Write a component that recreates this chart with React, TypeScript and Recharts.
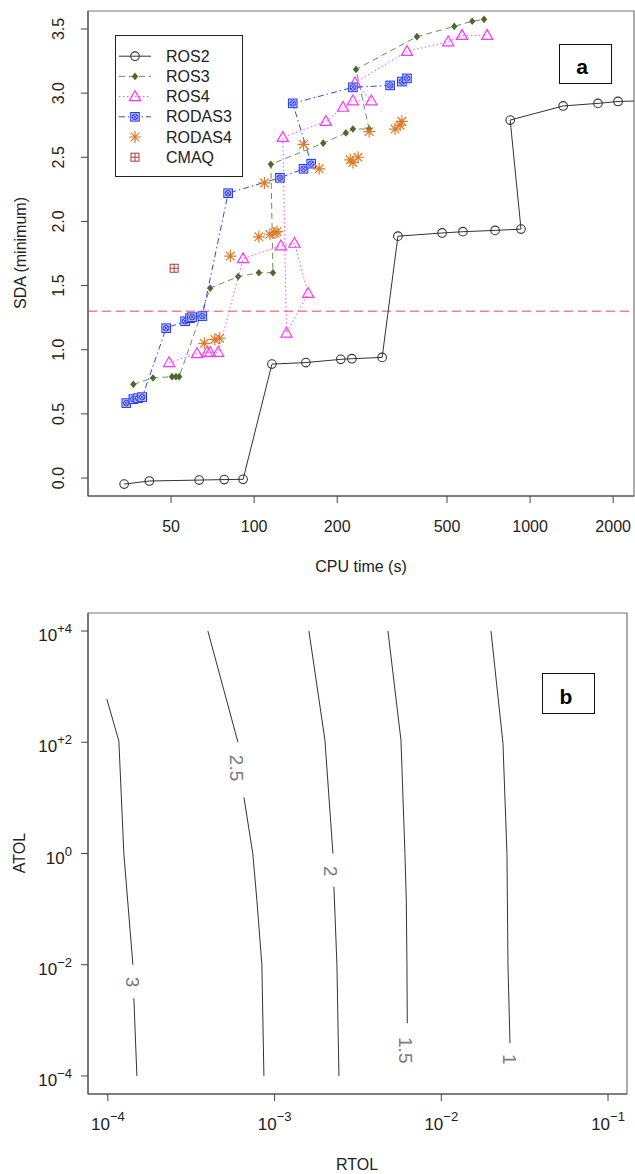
import React from "react";
import {
  ScatterChart,
  Scatter,
  XAxis,
  YAxis,
  ReferenceLine,
  ReferenceArea,
} from "recharts";

const FONT = '"Liberation Sans", Arial, Helvetica, sans-serif';

// ---------- panel a: SDA (minimum) vs CPU time ----------
const ros2Time = [33.8, 41.7, 63.2, 77.9, 91.2, 116, 154, 206, 226, 291, 332, 480, 571, 747, 927, 847, 1318, 1762, 2083, 2600];
const ros2Sda = [-0.047, -0.023, -0.016, -0.012, -0.01, 0.888, 0.9, 0.925, 0.93, 0.94, 1.885, 1.91, 1.92, 1.93, 1.94, 2.79, 2.9, 2.92, 2.935, 2.94];

const ros3Time = [36.5, 43, 50.4, 52.1, 53.5, 69.3, 87.5, 104, 117, 115, 178, 215, 228, 261, 234, 389, 531, 617, 681];
const ros3Sda = [0.73, 0.78, 0.79, 0.79, 0.79, 1.48, 1.57, 1.6, 1.6, 2.445, 2.61, 2.69, 2.72, 2.72, 3.185, 3.44, 3.52, 3.56, 3.575];

const ros4Time = [49.2, 62.1, 67.6, 69.3, 74.1, 91.2, 125, 140, 157, 131, 127, 182, 210, 228, 266, 232, 358, 505, 567, 699];
const ros4Sda = [0.9, 0.97, 0.98, 0.98, 0.98, 1.71, 1.81, 1.83, 1.44, 1.13, 2.655, 2.78, 2.89, 2.94, 2.94, 3.08, 3.325, 3.4, 3.45, 3.45];

const rodas3Time = [34.4, 36.5, 38.0, 39.3, 48.0, 56.2, 58.6, 59.6, 64.9, 80.5, 124, 151, 161, 138, 228, 311, 343, 358];
const rodas3Sda = [0.584, 0.615, 0.623, 0.631, 1.168, 1.222, 1.246, 1.254, 1.262, 2.22, 2.34, 2.41, 2.45, 2.92, 3.045, 3.06, 3.09, 3.115];

const rodas4Time = [66, 72, 75, 82, 104, 114, 119, 121, 109, 151, 172, 223, 228, 238, 261, 324, 338, 343];
const rodas4Sda = [1.05, 1.08, 1.09, 1.73, 1.88, 1.9, 1.91, 1.92, 2.3, 2.6, 2.41, 2.48, 2.46, 2.5, 2.7, 2.72, 2.75, 2.78];

const cmaqTime = [51.3];
const cmaqSda = [1.635];

const sdaThreshold = 1.3;
const cpuTicks = [50, 100, 200, 500, 1000, 2000];
const sdaTicks = [0, 0.5, 1, 1.5, 2, 2.5, 3, 3.5];
const cpuDomain = [25, 2380];
const sdaDomain = [-0.14, 3.64];

// ---------- panel b: contours of SDA over RTOL / ATOL ----------
const c3aRtol = [9.86e-5, 1.164e-4, 1.247e-4, 1.413e-4];
const c3aAtol = [598, 105, 1, 0.01];
const c3bRtol = [1.432e-4, 1.493e-4];
const c3bAtol = [2.5e-3, 1e-4];

const c25aRtol = [3.98e-4, 6.03e-4];
const c25aAtol = [1e4, 100];
const c25bRtol = [6.55e-4, 7.4e-4, 7.83e-4, 8.39e-4, 8.63e-4];
const c25bAtol = [10.2, 1, 0.145, 0.01, 1e-4];

const c2aRtol = [1.607e-3, 2.004e-3, 2.239e-3];
const c2aAtol = [1e4, 110, 1];
const c2bRtol = [2.27e-3, 2.366e-3, 2.432e-3];
const c2bAtol = [0.251, 0.01, 1e-4];

const c15Rtol = [4.786e-3, 5.728e-3, 6.053e-3, 6.166e-3, 6.223e-3, 6.252e-3];
const c15Atol = [1e4, 110, 1, 0.145, 0.01, 8.9e-4];

const c1Rtol = [0.01986, 0.02344, 0.02477, 0.02512, 0.02582];
const c1Atol = [1e4, 95.5, 1, 0.01, 3.9e-4];

const contourLabelText = ["3", "2.5", "2", "1.5", "1"];
const contourLabelRtol = [1.41e-4, 5.94e-4, 2.15e-3, 6.14e-3, 0.0258];
const contourLabelAtol = [4.86e-3, 34.4, 0.48, 2.9e-4, 2.0e-4];

const rtolTicks = [1e-4, 1e-3, 1e-2, 1e-1];
const atolTicks = [1e-4, 1e-2, 1, 1e2, 1e4];
const rtolDomain = [7.6e-5, 0.13];
const atolDomain = [4.74e-5, 2.11e4];

const legendNames = ["ROS2", "ROS3", "ROS4", "RODAS3", "RODAS4", "CMAQ"];

const zip = (xs: number[], ys: number[]) => xs.map((x, i) => ({ x, y: ys[i] }));

type Kind = "circle" | "diamond" | "triangle" | "squareCircle" | "asterisk" | "squarePlus";

const series = [
  { name: "ROS2", data: zip(ros2Time, ros2Sda), color: "#333", line: "#333", dash: undefined, kind: "circle" as Kind },
  { name: "ROS3", data: zip(ros3Time, ros3Sda), color: "#4b6b2b", line: "#6f8f55", dash: "6 4", kind: "diamond" as Kind },
  { name: "ROS4", data: zip(ros4Time, ros4Sda), color: "#ff33ff", line: "#ff44ff", dash: "1.5 2.5", kind: "triangle" as Kind },
  { name: "RODAS3", data: zip(rodas3Time, rodas3Sda), color: "#2233ff", line: "#3344ff", dash: "6 3 1.5 3", kind: "squareCircle" as Kind },
  { name: "RODAS4", data: zip(rodas4Time, rodas4Sda), color: "#e07a25", line: null, dash: undefined, kind: "asterisk" as Kind },
  { name: "CMAQ", data: zip(cmaqTime, cmaqSda), color: "#b03a3a", line: null, dash: undefined, kind: "squarePlus" as Kind },
];

const contourSegments = [
  zip(c3aRtol, c3aAtol),
  zip(c3bRtol, c3bAtol),
  zip(c25aRtol, c25aAtol),
  zip(c25bRtol, c25bAtol),
  zip(c2aRtol, c2aAtol),
  zip(c2bRtol, c2bAtol),
  zip(c15Rtol, c15Atol),
  zip(c1Rtol, c1Atol),
];

const contourLabels = contourLabelText.map((text, i) => ({
  x: contourLabelRtol[i],
  y: contourLabelAtol[i],
  text,
}));

function Marker({ kind, cx, cy, color }: { kind: Kind; cx: number; cy: number; color: string }) {
  switch (kind) {
    case "circle":
      return <circle cx={cx} cy={cy} r={4.3} fill="none" stroke={color} strokeWidth={1.1} />;
    case "diamond":
      return <path d={`M${cx},${cy - 3.8}L${cx + 3.2},${cy}L${cx},${cy + 3.8}L${cx - 3.2},${cy}Z`} fill={color} />;
    case "triangle":
      return (
        <path
          d={`M${cx},${cy - 5.8}L${cx + 5.6},${cy + 4}L${cx - 5.6},${cy + 4}Z`}
          fill="none"
          stroke={color}
          strokeWidth={1.2}
        />
      );
    case "squareCircle":
      return (
        <g stroke={color} strokeWidth={1}>
          <rect x={cx - 4.3} y={cy - 4.3} width={8.6} height={8.6} fill="#c8ccff" />
          <circle cx={cx} cy={cy} r={2.8} fill="none" />
          <path d={`M${cx - 2},${cy - 2}L${cx + 2},${cy + 2}M${cx - 2},${cy + 2}L${cx + 2},${cy - 2}`} />
        </g>
      );
    case "asterisk":
      return (
        <path
          d={`M${cx - 6},${cy}L${cx + 6},${cy}M${cx},${cy - 6}L${cx},${cy + 6}M${cx - 4.3},${cy - 4.3}L${cx + 4.3},${cy + 4.3}M${cx - 4.3},${cy + 4.3}L${cx + 4.3},${cy - 4.3}`}
          stroke={color}
          strokeWidth={1.2}
        />
      );
    case "squarePlus":
      return (
        <g stroke={color} strokeWidth={1} fill="none">
          <rect x={cx - 4} y={cy - 4} width={8} height={8} />
          <path d={`M${cx - 4},${cy}L${cx + 4},${cy}M${cx},${cy - 4}L${cx},${cy + 4}`} />
        </g>
      );
  }
  return null;
}

const CpuTick = (p: any) => (
  <text x={p.x} y={p.y + 29} textAnchor="middle" fontSize={16} fill="#222" fontFamily={FONT}>
    {p.payload.value}
  </text>
);

const SdaTick = (p: any) => {
  const x = p.x - 17;
  return (
    <text
      x={x}
      y={p.y}
      transform={`rotate(-90 ${x} ${p.y})`}
      textAnchor="middle"
      fontSize={16}
      fill="#222"
      fontFamily={FONT}
    >
      {p.payload.value.toFixed(1)}
    </text>
  );
};

const expText = (v: number, plus: boolean) => {
  const e = Math.round(Math.log10(v));
  if (e < 0) return `\u2212${-e}`;
  if (e > 0 && plus) return `+${e}`;
  return `${e}`;
};

const RtolTick = (p: any) => (
  <text x={p.x} y={p.y + 29} textAnchor="middle" fontSize={17} fill="#222" fontFamily={FONT}>
    <tspan>10</tspan>
    <tspan dy={-9} fontSize={13}>
      {expText(p.payload.value, false)}
    </tspan>
  </text>
);

const AtolTick = (p: any) => (
  <text x={p.x - 9} y={p.y + 10} textAnchor="end" fontSize={17} fill="#222" fontFamily={FONT}>
    <tspan>10</tspan>
    <tspan dy={-8} fontSize={13}>
      {expText(p.payload.value, true)}
    </tspan>
  </text>
);

const ContourLabel = (p: any) => {
  const text = p.payload?.text ?? p.text;
  return (
    <text
      x={p.cx}
      y={p.cy}
      transform={`rotate(90 ${p.cx} ${p.cy})`}
      textAnchor="middle"
      dominantBaseline="central"
      fontSize={19}
      fill="#7a7a7a"
      fontFamily={FONT}
    >
      {text}
    </text>
  );
};

function Overlay() {
  const rowBase = (i: number) => 61.7 + 20.2 * i;
  return (
    <svg
      width={635}
      height={1174}
      style={{ position: "absolute", left: 0, top: 0, pointerEvents: "none" }}
      fontFamily={FONT}
    >
      {/* legend of panel a */}
      <rect x={115.5} y={35.5} width={127} height={141} fill="#fff" stroke="#222" strokeWidth={1} />
      {legendNames.map((name, i) => {
        const s = series.find((d) => d.name === name)!;
        const cy = rowBase(i) - 5.5;
        return (
          <g key={name}>
            {s.line && (
              <line x1={119} x2={151} y1={cy} y2={cy} stroke={s.line} strokeWidth={1} strokeDasharray={s.dash} />
            )}
            <Marker kind={s.kind} cx={135} cy={cy} color={s.color} />
            <text x={166} y={rowBase(i)} fontSize={16} fill="#222">
              {name}
            </text>
          </g>
        );
      })}

      {/* axis titles */}
      <text x={361} y={572} textAnchor="middle" fontSize={16} fill="#222">
        CPU time (s)
      </text>
      <text x={26} y={253} transform="rotate(-90 26 253)" textAnchor="middle" fontSize={16} fill="#222">
        SDA (minimum)
      </text>
      <text x={357} y={1170} textAnchor="middle" fontSize={16} fill="#222">
        RTOL
      </text>
      <text x={25} y={853} transform="rotate(-90 25 853)" textAnchor="middle" fontSize={16} fill="#222">
        ATOL
      </text>

      {/* panel tags */}
      <rect x={559.5} y={44.5} width={52} height={39} fill="#fff" stroke="#111" strokeWidth={1} />
      <text x={582} y={74} textAnchor="middle" fontSize={21} fontWeight="bold" fill="#000">
        a
      </text>
      <rect x={542.5} y={673.5} width={52} height={40} fill="#fff" stroke="#111" strokeWidth={1} />
      <text x={566} y={704} textAnchor="middle" fontSize={21} fontWeight="bold" fill="#000">
        b
      </text>
    </svg>
  );
}

export default function App() {
  return (
    <div
      style={{
        position: "absolute",
        left: 0,
        top: 0,
        width: 635,
        height: 1174,
        background: "#fff",
        fontFamily: FONT,
      }}
    >
      <div style={{ position: "absolute", left: 0, top: 0 }}>
        <ScatterChart width={635} height={600} margin={{ top: 11, right: 1, bottom: 0, left: 0 }}>
          <XAxis
            type="number"
            dataKey="x"
            scale="log"
            domain={cpuDomain}
            ticks={cpuTicks}
            interval={0}
            allowDataOverflow
            height={104}
            tickSize={7}
            tickMargin={0}
            tick={CpuTick}
            stroke="#444"
          />
          <YAxis
            type="number"
            dataKey="y"
            domain={sdaDomain}
            ticks={sdaTicks}
            interval={0}
            allowDataOverflow
            width={88}
            tickSize={7}
            tickMargin={0}
            tick={SdaTick}
            stroke="#444"
          />
          <ReferenceArea
            x1={cpuDomain[0]}
            x2={cpuDomain[1]}
            y1={sdaDomain[0]}
            y2={sdaDomain[1]}
            fill="none"
            stroke="#777"
            strokeWidth={1.2}
            ifOverflow="visible"
          />
          <ReferenceLine y={sdaThreshold} stroke="#ff8080" strokeDasharray="9 5" strokeWidth={1.5} />
          {series.map((s) => (
            <Scatter
              key={s.name}
              name={s.name}
              data={s.data}
              isAnimationActive={false}
              line={s.line ? { stroke: s.line, strokeWidth: 1, strokeDasharray: s.dash } : false}
              lineJointType="linear"
              shape={(p: any) => <Marker kind={s.kind} cx={p.cx} cy={p.cy} color={s.color} />}
            />
          ))}
        </ScatterChart>
      </div>

      <div style={{ position: "absolute", left: 0, top: 600 }}>
        <ScatterChart width={635} height={574} margin={{ top: 13, right: 8, bottom: 0, left: 0 }}>
          <XAxis
            type="number"
            dataKey="x"
            scale="log"
            domain={rtolDomain}
            ticks={rtolTicks}
            interval={0}
            allowDataOverflow
            height={80}
            tickSize={7}
            tickMargin={0}
            tick={RtolTick}
            stroke="#444"
          />
          <YAxis
            type="number"
            dataKey="y"
            scale="log"
            domain={atolDomain}
            ticks={atolTicks}
            interval={0}
            allowDataOverflow
            width={88}
            tickSize={7}
            tickMargin={0}
            tick={AtolTick}
            stroke="#444"
          />
          <ReferenceArea
            x1={rtolDomain[0]}
            x2={rtolDomain[1]}
            y1={atolDomain[0]}
            y2={atolDomain[1]}
            fill="none"
            stroke="#777"
            strokeWidth={1.2}
            ifOverflow="visible"
          />
          {contourSegments.map((seg, i) => (
            <Scatter
              key={`c${i}`}
              data={seg}
              isAnimationActive={false}
              line={{ stroke: "#333", strokeWidth: 1 }}
              lineJointType="linear"
              shape={() => <g />}
            />
          ))}
          <Scatter data={contourLabels} isAnimationActive={false} shape={ContourLabel} />
        </ScatterChart>
      </div>

      <Overlay />
    </div>
  );
}
